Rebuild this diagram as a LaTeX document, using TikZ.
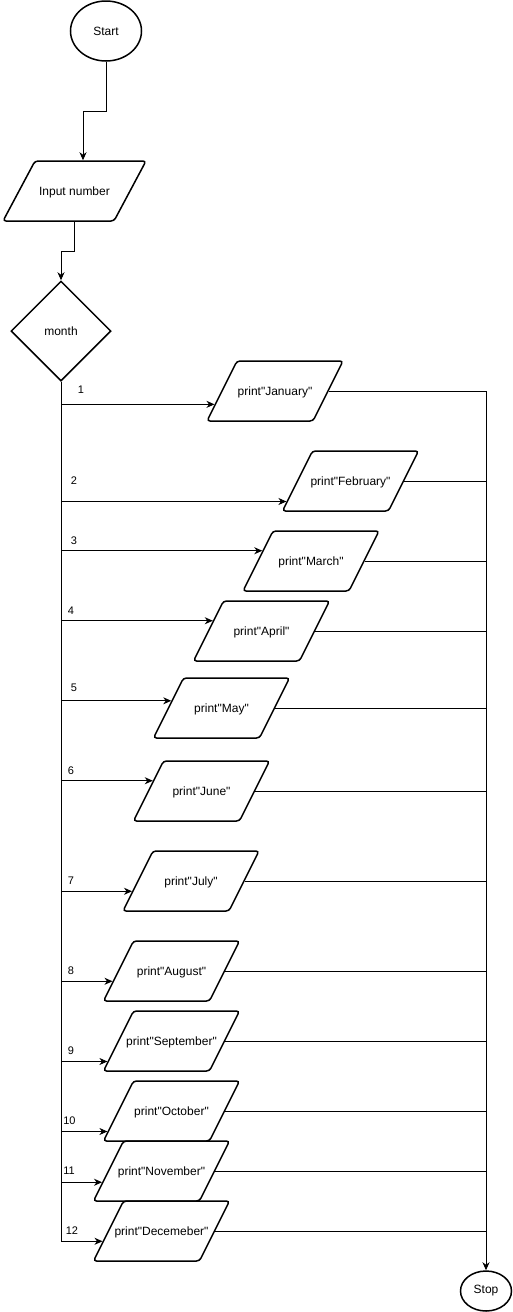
\documentclass[tikz,border=0pt]{standalone}
\usepackage{fontspec}
\setmainfont{Liberation Sans}[Ligatures=TeXOff]
\usetikzlibrary{shapes.geometric,arrows.meta,calc}
\begin{document}
\begin{tikzpicture}[x=1pt,y=-1pt,
  font=\fontsize{12}{14}\selectfont,
  shapeline/.style={draw, line width=1.5pt},
  term/.style={shapeline, ellipse, inner sep=0},
  io/.style={shapeline, trapezium, trapezium left angle=63.43, trapezium right angle=116.57,
    inner sep=0, text height=34.3pt, text depth=25.7pt, rounded corners=3pt},
  dec/.style={shapeline, diamond, minimum width=100pt, minimum height=100pt, inner sep=0},
  conn/.style={line width=0.9pt},
  arr/.style={conn, -{Stealth[length=8pt,width=7pt,inset=2.5pt]}},
  lbl/.style={font=\fontsize{11}{13}\selectfont, inner sep=0}]
\useasboundingbox (0,0) rectangle (512,1312);

\node[term, minimum width=71pt, minimum height=60pt] (start) at (106,31) {Start};
\node[io, trapezium left angle=61.93, trapezium right angle=118.07] (inp) at (74.5,191)
  {\makebox[79pt]{Input number}};
\node[dec] (month) at (61,331) {month};
\node[term, minimum width=51pt, minimum height=40pt] (stop) at (486,1291) {Stop};

\coordinate (inTop) at ($(inp.center |- inp.north)+(8.5,0)$);
\draw[arr] (start.south) -- ++(0,50) -| (inTop);
\draw[arr] (inp.center |- inp.south) -- ++(0,30) -| (month.north);

\foreach \n/\x/\y/\t/\f/\l/\lx/\ly in {
  jan/275/391/January/0.283/1/81/390,
  feb/350.5/481/February/0.167/2/74/481,
  mar/311/561/March/0.667/3/74/541,
  apr/261.5/631/April/0.667/4/71/611,
  may/221.5/708/May/0.617/5/74/688,
  jun/201.5/791/June/0.667/6/71/771,
  jul/191/881/July/0.333/7/71/881,
  aug/171.5/971/August/0.333/8/71/971,
  sep/171.5/1041/September/0.167/9/71/1051,
  oct/171.5/1111/October/0.167/10/69.5/1121,
  nov/161.5/1171/November/0.317/11/69/1171,
  dec/161.5/1231/Decemeber/0.333/12/72/1231}
{
  \node[io] (\n) at (\x,\y) {\makebox[76pt]{print"\t"}};
  \coordinate (\n-tip) at ($(\n.bottom left corner)!\f!(\n.top left corner)$);
  \draw[arr] (month.south |- \n-tip) -- (\n-tip);
  \node[lbl] (\n-lbl) at (\lx,\ly) {\l};
  \draw[conn] (\n.east) -- (\n.east -| stop.north);
}

\draw[conn] (month.south) -- (month.south |- dec-tip);
\draw[arr] (jan.east -| stop.north) -- (stop.north);
\end{tikzpicture}
\end{document}
